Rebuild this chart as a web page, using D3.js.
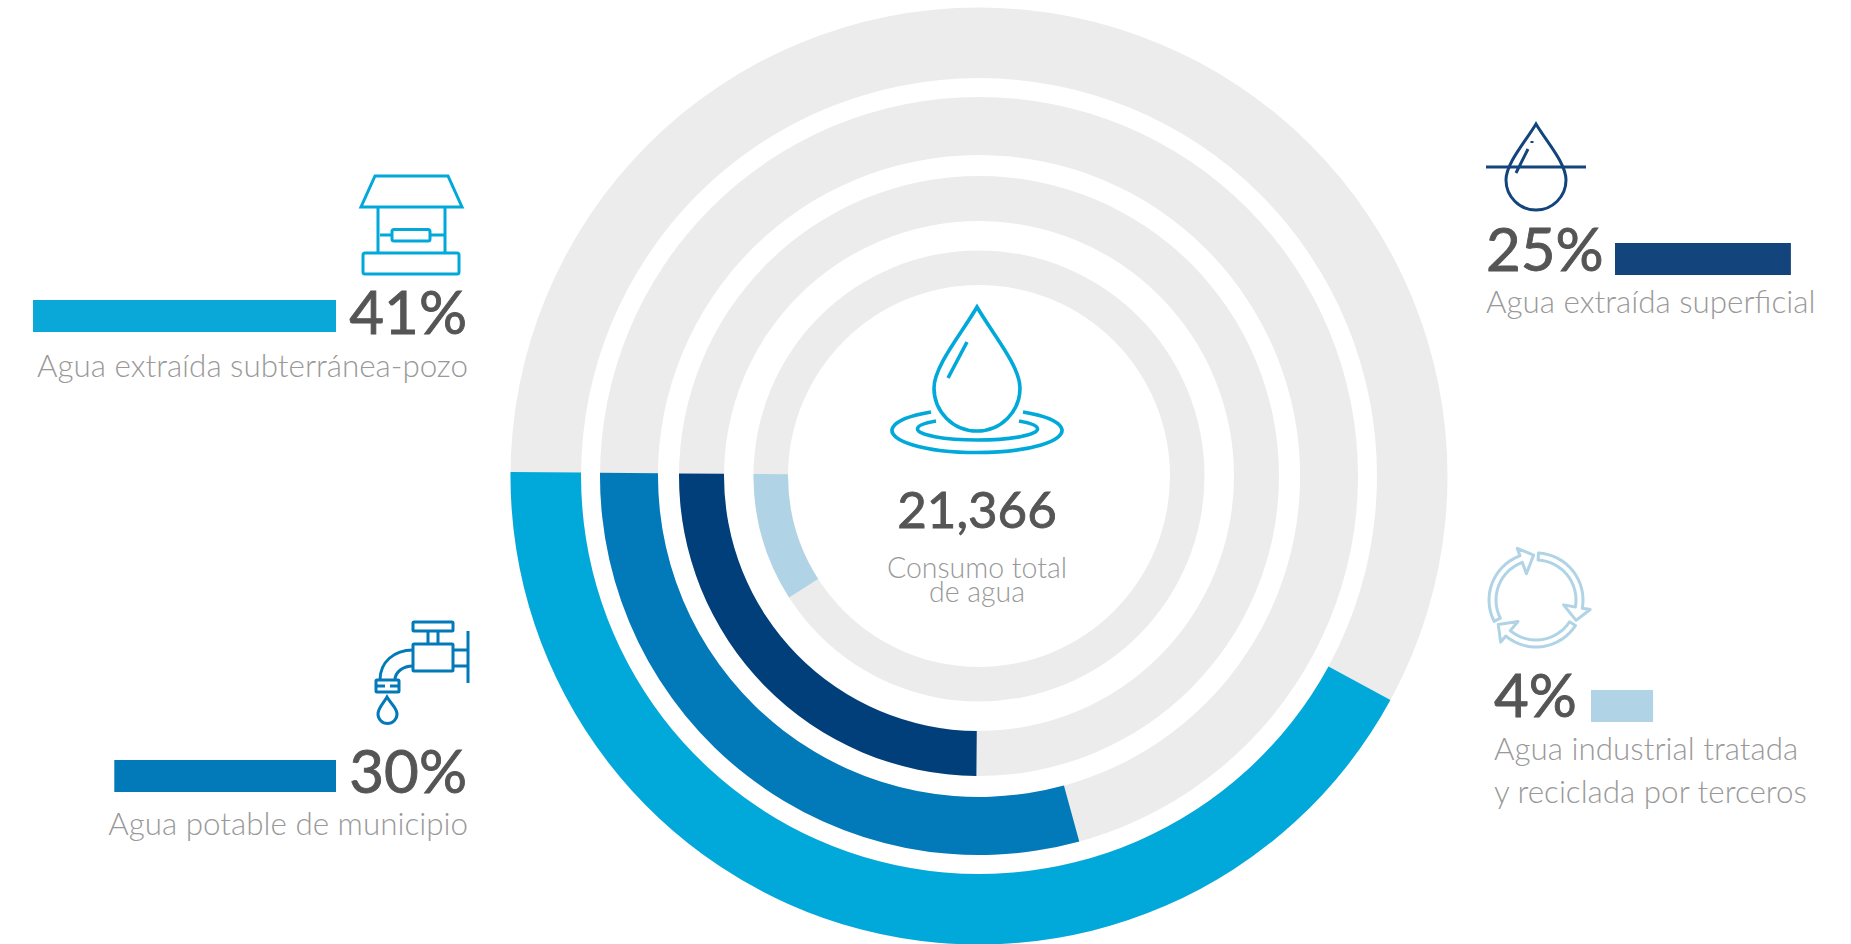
<!DOCTYPE html>
<html>
  <head>
    <meta charset="utf-8">
    <title>Consumo total de agua</title>
    <script src="https://d3js.org/d3.v7.min.js"></script>
    <style>
      html, body {
        margin: 0;
        background: #fff;
      }

      svg {
        display: block;
      }

      text {
        font-family: Lato, "Open Sans", sans-serif;
      }

      .pct {
        font-size: 60px;
        font-weight: 400;
        fill: #555;
        stroke: #555;
        stroke-width: 0.9;
      }

      .label {
        font-size: 31.4px;
        font-weight: 300;
        fill: #999;
      }

      .icon {
        fill: none;
        stroke-width: 3;
      }
    </style>
  </head>
  <body>
    <svg width="1851" height="944"></svg>
    <script>
      // printed figures
      var percentLabels = ["41%", "30%", "25%", "4%"];
      var total = "21,366";

      // what the picture actually draws, read off it (not the same as the printed figures)
      var ringShares = [42.2, 29.4, 25, 9.2];
      var barValues = [41, 30, 23.8, 8.4];

      var categories = [
        ["Agua extraída subterránea-pozo"],
        ["Agua potable de municipio"],
        ["Agua extraída superficial"],
        ["Agua industrial tratada", "y reciclada por terceros"]
      ];
      var colors = ["#00a9d9", "#0279b9", "#013f7a", "#b0d4e5"];
      var barColors = ["#09a8d9", "#0279b9", "#13447c", "#b0d4e5"];

      var cx = 979, cy = 476;
      var ringOuter = [468.5, 379, 300, 225.5];
      var ringInner = [398, 321, 255, 191];
      // the rings start a hair past nine o'clock
      var ringStart = -89.5 * Math.PI / 180;

      var svg = d3.select("svg");

      var angle = d3.scaleLinear().domain([0, 100]).range([0, -2 * Math.PI]);
      var barWidth = d3.scaleLinear().domain([0, 41]).range([0, 303]);
      var arc = d3.arc();

      var rings = svg.append("g").attr("transform", "translate(" + cx + "," + cy + ")");

      rings.selectAll(".track")
          .data(ringShares)
          .enter().append("path")
          .attr("class", "track")
          .attr("fill", "#ececec")
          .attr("d", function(d, i) {
            return arc({innerRadius: ringInner[i], outerRadius: ringOuter[i], startAngle: 0, endAngle: 2 * Math.PI});
          });

      rings.selectAll(".ring")
          .data(ringShares)
          .enter().append("path")
          .attr("class", "ring")
          .attr("fill", function(d, i) { return colors[i]; })
          .attr("d", function(d, i) {
            return arc({
              innerRadius: ringInner[i],
              outerRadius: ringOuter[i],
              startAngle: ringStart,
              endAngle: ringStart + angle(d)
            });
          });

      // legend blocks: bar anchor, text anchors. dir -1 = bar grows left from its anchor
      var legend = [
        {barX: 336, barY: 300, dir: -1, pctX: 467, pctY: 334, pctAnchor: "end", labelX: 468, labelY: 377, anchor: "end"},
        {barX: 336, barY: 760, dir: -1, pctX: 467, pctY: 793, pctAnchor: "end", labelX: 468, labelY: 835, anchor: "end"},
        {barX: 1615, barY: 243, dir: 1, pctX: 1486, pctY: 271, pctAnchor: "start", labelX: 1486, labelY: 313, anchor: "start"},
        {barX: 1591, barY: 690, dir: 1, pctX: 1494, pctY: 717, pctAnchor: "start", labelX: 1494, labelY: 760, anchor: "start"}
      ];

      svg.selectAll(".bar")
          .data(barValues)
          .enter().append("rect")
          .attr("class", "bar")
          .attr("x", function(d, i) { return legend[i].dir < 0 ? legend[i].barX - barWidth(d) : legend[i].barX; })
          .attr("y", function(d, i) { return legend[i].barY; })
          .attr("width", function(d) { return barWidth(d); })
          .attr("height", 32)
          .attr("fill", function(d, i) { return barColors[i]; });

      svg.selectAll(".pct")
          .data(percentLabels)
          .enter().append("text")
          .attr("class", "pct")
          .attr("x", function(d, i) { return legend[i].pctX; })
          .attr("y", function(d, i) { return legend[i].pctY; })
          .attr("text-anchor", function(d, i) { return legend[i].pctAnchor; })
          .text(function(d) { return d; });

      categories.forEach(function(lines, i) {
        lines.forEach(function(line, j) {
          svg.append("text")
              .attr("class", "label")
              .attr("x", legend[i].labelX)
              .attr("y", legend[i].labelY + j * 43)
              .attr("text-anchor", legend[i].anchor)
              .text(line);
        });
      });

      // centre
      svg.append("text")
          .attr("class", "pct")
          .attr("x", 977)
          .attr("y", 528)
          .attr("text-anchor", "middle")
          .style("font-size", "51px")
          .text(total);

      ["Consumo total", "de agua"].forEach(function(line, j) {
        svg.append("text")
            .attr("class", "label")
            .attr("x", 977)
            .attr("y", 578 + j * 24)
            .attr("text-anchor", "middle")
            .style("font-size", "28.5px")
            .text(line);
      });

      // icons
      function icon(color) {
        return svg.append("g").attr("class", "icon").attr("stroke", color);
      }

      var well = icon(colors[0]);
      well.append("path").attr("d", "M375,176H448L462,207H361Z");
      well.append("path").attr("d", "M378,207V253M445,207V253M380,235H392M430,235H445");
      well.append("rect").attr("x", 392).attr("y", 229.5).attr("width", 38).attr("height", 11.5).attr("rx", 2);
      well.append("rect").attr("x", 363).attr("y", 253).attr("width", 96).attr("height", 21).attr("rx", 2);

      var drop = icon(colors[0]).style("stroke-width", 3.6);
      drop.append("path").attr("d", "M977,307C962,333 934,366 934,388A43,43 0 0 0 1020,388C1020,366 992,333 977,307Z");
      drop.append("path").attr("d", "M967,342L948,378");
      drop.append("path").attr("d", "M931,412A85,22 0 1 0 1023,412");
      drop.append("path").attr("d", "M936,421A60,11 0 1 0 1019,421");

      var surface = icon(barColors[2]);
      surface.append("path").attr("d", "M1536,124C1526,141 1506,163 1506,180A30,30 0 0 0 1566,180C1566,163 1546,141 1536,124Z");
      surface.append("path").attr("d", "M1486,167H1586M1528,149L1516,173M1532,141V143");

      var tap = icon(colors[1]);
      tap.append("rect").attr("x", 413).attr("y", 622).attr("width", 40).attr("height", 9).attr("rx", 1);
      tap.append("rect").attr("x", 413).attr("y", 644).attr("width", 40).attr("height", 27).attr("rx", 1);
      tap.append("rect").attr("x", 376).attr("y", 680).attr("width", 23).attr("height", 12).attr("rx", 1);
      tap.append("path").attr("d", "M428,631V644M438,631V644M453,650H468M453,666H468M468,631V683");
      tap.append("path").attr("d", "M413,650C394,650 380,662 380,680M413,666C403,666 395,672 395,680");
      tap.append("path").attr("d", "M376,686H385M390,686H399");
      tap.append("path").attr("d", "M387,697C383,704 378,708 378,714A9,9 0 0 0 397,714C397,708 391,704 387,697Z");

      // three copies of one recycling arrow, drawn in polar coordinates around its centre
      var radial = d3.lineRadial().curve(d3.curveLinearClosed);
      var deg = Math.PI / 180;
      var arrowPoints = [];
      d3.range(3, 100, 6).forEach(function(a) { arrowPoints.push([a * deg, 47]); });
      arrowPoints.push([100 * deg, 47], [100 * deg, 55], [117 * deg, 45], [100 * deg, 28], [100 * deg, 40]);
      d3.range(99, 2, -6).forEach(function(a) { arrowPoints.push([a * deg, 40]); });

      var recycle = icon(colors[3]).attr("transform", "translate(1536,600)");
      [0, 120, 240].forEach(function(r) {
        recycle.append("path")
            .attr("transform", "rotate(" + r + ")")
            .attr("stroke-linejoin", "round")
            .attr("d", radial(arrowPoints));
      });
    </script>
  </body>
</html>
